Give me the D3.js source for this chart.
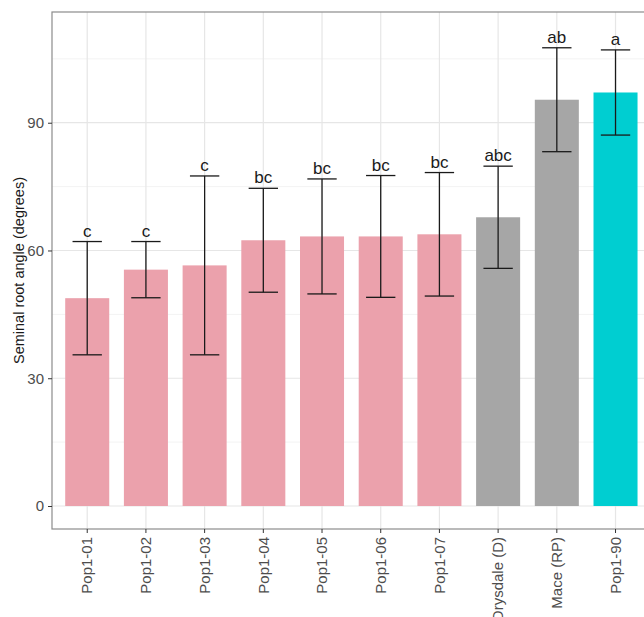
<!DOCTYPE html>
<html>
<head>
<meta charset="utf-8">
<script src="https://cdn.jsdelivr.net/npm/d3@7"></script>
<style>
  body { margin: 0; background: #fff; }
  text { font-family: "Liberation Sans", Arial, sans-serif; }
</style>
</head>
<body>
<div id="chart"></div>
<script>
// data
var categories = ["Pop1-01", "Pop1-02", "Pop1-03", "Pop1-04", "Pop1-05", "Pop1-06", "Pop1-07", "Drysdale (D)", "Mace (RP)", "Pop1-90"];
var means = [48.8, 55.5, 56.5, 62.4, 63.3, 63.3, 63.8, 67.8, 95.4, 97.1];
var errs = [13.3, 6.6, 21.0, 12.2, 13.5, 14.3, 14.5, 12.0, 12.2, 10.0];
var letters = ["c", "c", "c", "bc", "bc", "bc", "bc", "abc", "ab", "a"];
var groups = ["pop", "pop", "pop", "pop", "pop", "pop", "pop", "parent", "parent", "select"];
var yTicks = [0, 30, 60, 90];
var yMinor = [15, 45, 75, 105];

var width = 644;
var height = 617;
var panel = {left: 52, top: 12, bottom: 529};
var fills = {pop: "#EBA1AC", parent: "#A6A6A6", select: "#00CED1"};

var svg = d3.select("#chart").append("svg")
  .attr("width", width)
  .attr("height", height);

// ggplot style discrete expansion: 0.6 of a step each side
var step = 58.7;
var x = d3.scaleBand()
  .domain(categories)
  .range([panel.left + 0.6 * step - step / 2, panel.left + 0.6 * step - step / 2 + step * categories.length]);
var panelRight = panel.left + step * (categories.length - 1) + 1.2 * step;

var y = d3.scaleLinear()
  .domain([-5.4, 116])
  .range([panel.bottom, panel.top]);

function cx(c) { return x(c) + x.bandwidth() / 2; }

// grid
var grid = svg.append("g");
grid.selectAll(".minor").data(yMinor).enter().append("line")
  .attr("x1", panel.left).attr("x2", panelRight)
  .attr("y1", function(d) { return y(d); }).attr("y2", function(d) { return y(d); })
  .attr("stroke", "#F3F3F3").attr("stroke-width", 1);
grid.selectAll(".major").data(yTicks).enter().append("line")
  .attr("x1", panel.left).attr("x2", panelRight)
  .attr("y1", function(d) { return y(d); }).attr("y2", function(d) { return y(d); })
  .attr("stroke", "#E6E6E6").attr("stroke-width", 1.2);
grid.selectAll(".vmajor").data(categories).enter().append("line")
  .attr("x1", cx).attr("x2", cx)
  .attr("y1", panel.top).attr("y2", panel.bottom)
  .attr("stroke", "#E6E6E6").attr("stroke-width", 1.2);

// bars
var barW = step * 0.75;
svg.selectAll(".bar").data(categories).enter().append("rect")
  .attr("x", function(d) { return cx(d) - barW / 2; })
  .attr("width", barW)
  .attr("y", function(d, i) { return y(means[i]); })
  .attr("height", function(d, i) { return y(0) - y(means[i]); })
  .attr("fill", function(d, i) { return fills[groups[i]]; });

// error bars
var capW = step * 0.5;
var eb = svg.selectAll(".err").data(categories).enter().append("g")
  .attr("stroke", "#1a1a1a").attr("stroke-width", 1.3);
eb.append("line")
  .attr("x1", cx).attr("x2", cx)
  .attr("y1", function(d, i) { return y(means[i] + errs[i]); })
  .attr("y2", function(d, i) { return y(means[i] - errs[i]); });
eb.append("line")
  .attr("x1", function(d) { return cx(d) - capW / 2; })
  .attr("x2", function(d) { return cx(d) + capW / 2; })
  .attr("y1", function(d, i) { return y(means[i] + errs[i]); })
  .attr("y2", function(d, i) { return y(means[i] + errs[i]); });
eb.append("line")
  .attr("x1", function(d) { return cx(d) - capW / 2; })
  .attr("x2", function(d) { return cx(d) + capW / 2; })
  .attr("y1", function(d, i) { return y(means[i] - errs[i]); })
  .attr("y2", function(d, i) { return y(means[i] - errs[i]); });

// letters
svg.selectAll(".lab").data(categories).enter().append("text")
  .attr("x", cx)
  .attr("y", function(d, i) { return y(means[i] + errs[i]) - 5; })
  .attr("text-anchor", "middle")
  .attr("font-size", 17)
  .attr("fill", "#1a1a1a")
  .text(function(d, i) { return letters[i]; });

// panel border
svg.append("rect")
  .attr("x", panel.left).attr("y", panel.top)
  .attr("width", panelRight - panel.left).attr("height", panel.bottom - panel.top)
  .attr("fill", "none").attr("stroke", "#8c8c8c").attr("stroke-width", 1.2);

// y axis
var yAxis = svg.append("g")
  .attr("transform", "translate(" + panel.left + ",0)")
  .call(d3.axisLeft(y).tickValues(yTicks).tickSize(4).tickPadding(4));
yAxis.select(".domain").remove();
yAxis.selectAll(".tick line").attr("stroke", "#333");
yAxis.selectAll(".tick text").attr("font-size", 15).attr("fill", "#4d4d4d")
  .style("font-family", "Liberation Sans, Arial, sans-serif");

// x axis
var xAxis = svg.append("g")
  .attr("transform", "translate(0," + panel.bottom + ")")
  .call(d3.axisBottom(x).tickSize(4).tickPadding(3));
xAxis.select(".domain").remove();
xAxis.selectAll(".tick line").attr("stroke", "#333");
xAxis.selectAll(".tick text")
  .attr("font-size", 15).attr("fill", "#4d4d4d")
  .style("font-family", "Liberation Sans, Arial, sans-serif")
  .attr("transform", "rotate(-90)")
  .attr("text-anchor", "end")
  .attr("x", -8).attr("y", 0).attr("dy", "0.35em");

// y title
svg.append("text")
  .attr("transform", "translate(24," + ((panel.top + panel.bottom) / 2) + ") rotate(-90)")
  .attr("text-anchor", "middle")
  .attr("font-size", 14.5)
  .attr("fill", "#1a1a1a")
  .text("Seminal root angle (degrees)");
</script>
</body>
</html>
